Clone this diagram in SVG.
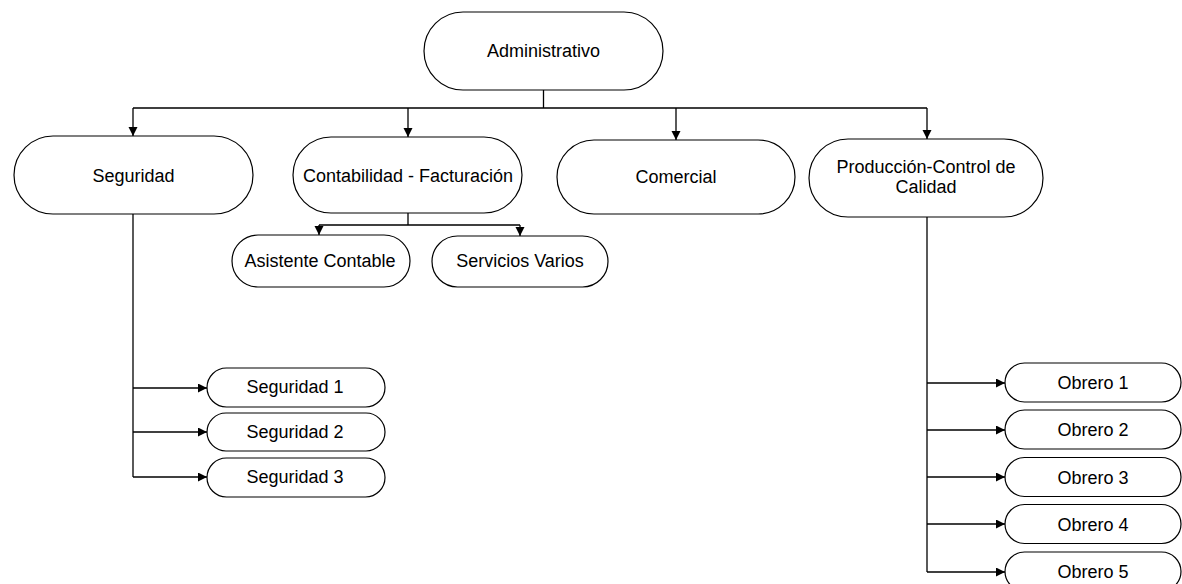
<svg xmlns="http://www.w3.org/2000/svg" width="1182" height="584" viewBox="0 0 1182 584">
<style>
.n{fill:#fff;stroke:#000;stroke-width:1.2}
.t{font-family:"Liberation Sans",Arial,sans-serif;font-size:18px;fill:#000;text-anchor:middle}
.c{fill:none;stroke:#000;stroke-width:1.3}
.a{marker-end:url(#ah)}
</style>
<defs>
<marker id="ah" markerUnits="userSpaceOnUse" markerWidth="10" markerHeight="10" refX="9" refY="4.5" orient="auto" viewBox="0 0 10 10">
<path d="M0,0 L9,4.5 L0,9 z" fill="#000"/>
</marker>
</defs>
<rect width="1182" height="584" fill="#fff"/>
<g id="connectors">
<path class="c" d="M543.5,90 V108 M133,108 H927"/>
<path class="c a" d="M133,108 V136"/>
<path class="c a" d="M408,108 V137"/>
<path class="c a" d="M676,108 V140"/>
<path class="c a" d="M927,108 V139"/>
<path class="c" d="M408,213 V225 M319,225 H520"/>
<path class="c a" d="M319,225 V235"/>
<path class="c a" d="M520,225 V236"/>
<path class="c" d="M133,214 V477"/>
<path class="c a" d="M133,388 H207"/>
<path class="c a" d="M133,432 H207"/>
<path class="c a" d="M133,477 H207"/>
<path class="c" d="M927,217 V572"/>
<path class="c a" d="M927,383 H1005"/>
<path class="c a" d="M927,430 H1005"/>
<path class="c a" d="M927,477 H1005"/>
<path class="c a" d="M927,524 H1005"/>
<path class="c a" d="M927,572 H1005"/>
</g>
<g id="administrativo"><rect class="n" x="424" y="12" width="239" height="78" rx="39"/><text class="t" x="543.5" y="57">Administrativo</text></g>
<g id="seguridad"><rect class="n" x="14" y="136" width="239" height="78" rx="39"/><text class="t" x="133.5" y="182">Seguridad</text></g>
<g id="contabilidad"><rect class="n" x="293" y="137" width="229" height="76" rx="38"/><text class="t" x="408" y="182">Contabilidad - Facturación</text></g>
<g id="comercial"><rect class="n" x="557" y="140" width="238" height="74" rx="37"/><text class="t" x="676" y="183">Comercial</text></g>
<g id="produccion"><rect class="n" x="809" y="139" width="234" height="78" rx="39"/><text class="t" x="926" y="173">Producción-Control de</text><text class="t" x="926" y="193">Calidad</text></g>
<g id="asistente"><rect class="n" x="232" y="235" width="178" height="52" rx="26"/><text class="t" x="320" y="267">Asistente Contable</text></g>
<g id="servicios"><rect class="n" x="432" y="236" width="176" height="51" rx="25.5"/><text class="t" x="520" y="267">Servicios Varios</text></g>
<g id="seguridad1"><rect class="n" x="207" y="368" width="178" height="39" rx="19.5"/><text class="t" x="295" y="393">Seguridad 1</text></g>
<g id="seguridad2"><rect class="n" x="207" y="413" width="178" height="38" rx="19"/><text class="t" x="295" y="438">Seguridad 2</text></g>
<g id="seguridad3"><rect class="n" x="207" y="458" width="178" height="39" rx="19.5"/><text class="t" x="295" y="483">Seguridad 3</text></g>
<g id="obrero1"><rect class="n" x="1005" y="363" width="176" height="39" rx="19.5"/><text class="t" x="1093" y="389">Obrero 1</text></g>
<g id="obrero2"><rect class="n" x="1005" y="410" width="176" height="39" rx="19.5"/><text class="t" x="1093" y="436">Obrero 2</text></g>
<g id="obrero3"><rect class="n" x="1005" y="457.5" width="176" height="39" rx="19.5"/><text class="t" x="1093" y="483.5">Obrero 3</text></g>
<g id="obrero4"><rect class="n" x="1005" y="504.5" width="176" height="39" rx="19.5"/><text class="t" x="1093" y="530.5">Obrero 4</text></g>
<g id="obrero5"><rect class="n" x="1005" y="552" width="176" height="39" rx="19.5"/><text class="t" x="1093" y="578">Obrero 5</text></g>
</svg>
